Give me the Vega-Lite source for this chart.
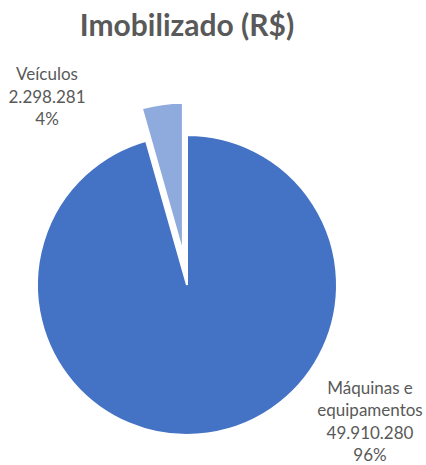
{
  "$schema": "https://vega.github.io/schema/vega-lite/v6.json",
  "width": 374,
  "height": 360,
  "autosize": {"type": "none"},
  "padding": {"left": 0, "right": 52, "top": 105, "bottom": 0},
  "background": "white",
  "view": {"stroke": null},
  "title": {
    "text": "Imobilizado (R$)",
    "font": "Lato",
    "fontSize": 30,
    "fontWeight": "bold",
    "color": "#595959",
    "anchor": "middle",
    "baseline": "alphabetic",
    "offset": 0
  },
  "data": {
    "values": [
      {"categoria": "Máquinas e equipamentos", "valor": 49910280, "ordem": 1, "rotulo": "Máquinas e\nequipamentos\n49.910.280\n96%"},
      {"categoria": "Veículos", "valor": 2298281, "ordem": 2, "rotulo": "Veículos\n2.298.281\n4%"}
    ]
  },
  "layer": [
    {
      "mark": {"type": "arc", "radius": 150, "stroke": "white", "strokeWidth": 2},
      "encoding": {
        "theta": {"field": "valor", "type": "quantitative", "stack": true},
        "order": {"field": "ordem", "type": "quantitative", "sort": "ascending"},
        "color": {"field": "categoria", "type": "nominal", "scale": {"domain": ["Máquinas e equipamentos", "Veículos"], "range": ["#4472C4", "#8FAADC"]}, "legend": null},
        "opacity": {"condition": {"test": "datum.ordem == 1", "value": 1}, "value": 0}
      }
    },
    {
      "mark": {"type": "arc", "radius": 150, "stroke": "white", "strokeWidth": 2, "xOffset": -4.1, "yOffset": -32.3},
      "encoding": {
        "theta": {"field": "valor", "type": "quantitative", "stack": true},
        "order": {"field": "ordem", "type": "quantitative", "sort": "ascending"},
        "color": {"field": "categoria", "type": "nominal", "legend": null},
        "opacity": {"condition": {"test": "datum.ordem == 2", "value": 1}, "value": 0}
      }
    },
    {
      "transform": [{"filter": "datum.ordem == 1"}],
      "mark": {"type": "text", "font": "Lato", "fontSize": 17, "color": "#595959", "lineBreak": "\n", "lineHeight": 22.3, "align": "center", "baseline": "alphabetic", "radius": 213.0, "theta": 2.108},
      "encoding": {"text": {"field": "rotulo", "type": "nominal"}}
    },
    {
      "transform": [{"filter": "datum.ordem == 2"}],
      "mark": {"type": "text", "font": "Lato", "fontSize": 17, "color": "#595959", "lineBreak": "\n", "lineHeight": 22.5, "align": "center", "baseline": "alphabetic", "radius": 248.2, "theta": 5.684},
      "encoding": {"text": {"field": "rotulo", "type": "nominal"}}
    }
  ]
}
